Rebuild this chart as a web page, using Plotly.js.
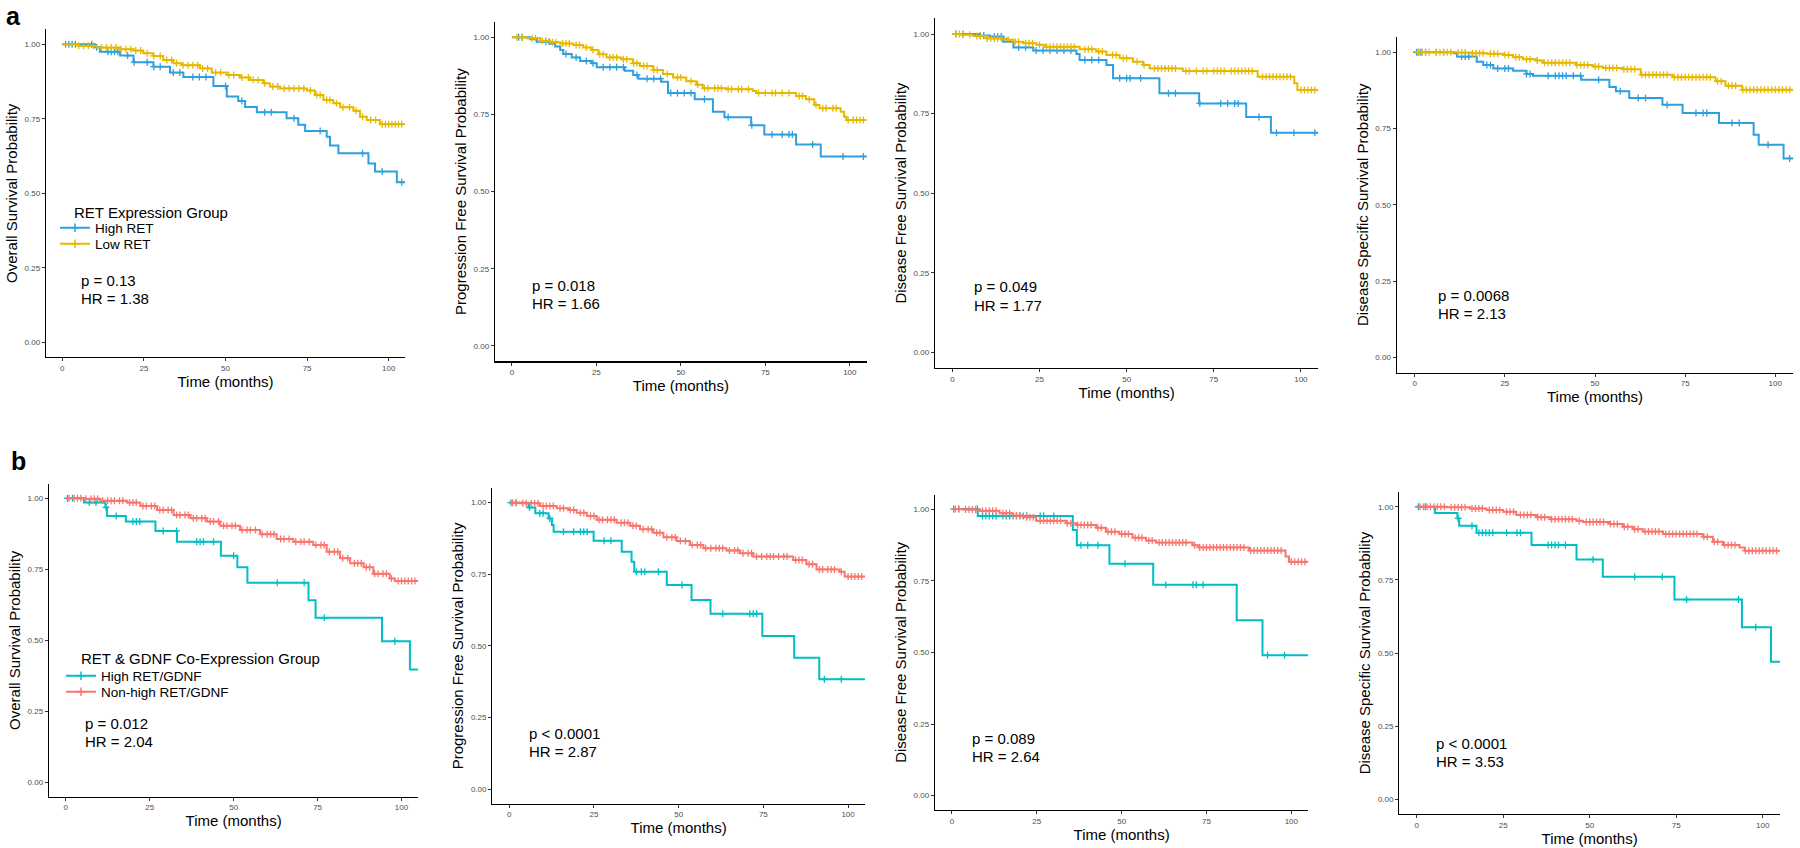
<!DOCTYPE html>
<html><head><meta charset="utf-8">
<script src="https://cdn.plot.ly/plotly-3.0.1.min.js"></script>
<style>html,body{margin:0;padding:0;background:#fff}</style>
</head><body><div id="chart" style="width:1800px;height:848px"></div>
<script>
// ---------- DATA ----------
const xTicks = [0, 25, 50, 75, 100];
const yTicks = [0, 0.25, 0.5, 0.75, 1];
const yTickText = ['0.00', '0.25', '0.50', '0.75', '1.00'];
const yTitles = ['Overall Survival Probability', 'Progression Free Survival Probability',
                 'Disease Free Survival Probability', 'Disease Specific Survival Probability'];
const xTitle = 'Time (months)';
const groupsA = ['High RET', 'Low RET'];
const groupsB = ['High RET/GDNF', 'Non-high RET/GDNF'];
const legendTitleA = 'RET Expression Group';
const legendTitleB = 'RET & GDNF Co-Expression Group';
const pTextsA = ['p = 0.13', 'p = 0.018', 'p = 0.049', 'p = 0.0068'];
const hrTextsA = ['HR = 1.38', 'HR = 1.66', 'HR = 1.77', 'HR = 2.13'];
const pTextsB = ['p = 0.012', 'p < 0.0001', 'p = 0.089', 'p < 0.0001'];
const hrTextsB = ['HR = 2.04', 'HR = 2.87', 'HR = 2.64', 'HR = 3.53'];

// Row a, panel 1 (OS)
const a1HighT = [0, 10, 11.5, 17.7, 21.8, 27.9, 33, 37.1, 46.3, 50.4, 53.9, 56, 59.6, 68.7, 72.3, 74.4, 81, 82, 84.6, 93.8, 95.8, 102.5, 105];
const a1HighS = [1, 0.99, 0.975, 0.962, 0.94, 0.925, 0.905, 0.89, 0.86, 0.825, 0.81, 0.79, 0.772, 0.752, 0.73, 0.709, 0.69, 0.66, 0.634, 0.6, 0.573, 0.537, 0.537];
const a1HighC = [1, 2, 3, 4, 9, 10.5, 14, 15, 16, 17, 20, 22, 26, 28, 30, 34, 36, 40, 42, 44, 50, 55, 62, 64, 71, 79, 92, 98, 104];
const a1LowT = [0, 4.9, 10.5, 17.7, 21.8, 24.8, 27.9, 30.9, 34, 36.6, 42.2, 45.8, 50.4, 54.4, 57.5, 61.6, 63.6, 66.7, 74.9, 77.4, 80, 83, 85.1, 89.2, 91.2, 93.3, 97.3, 105];
const a1LowS = [1, 0.995, 0.989, 0.983, 0.979, 0.97, 0.961, 0.947, 0.936, 0.93, 0.919, 0.905, 0.897, 0.889, 0.88, 0.869, 0.858, 0.852, 0.845, 0.83, 0.813, 0.802, 0.789, 0.777, 0.757, 0.746, 0.732, 0.732];
const a1LowC = [5, 6.5, 8, 9.5, 12, 13.5, 15, 16.5, 18, 19.5, 21, 22.5, 24, 26, 28, 30, 32, 33.5, 35, 37, 38.5, 40, 41.5, 43, 44.5, 47, 48.5, 51, 52.5, 55, 57, 58.5, 60, 62, 64.5, 66, 68, 69.5, 71, 72.5, 74, 76, 78, 79, 81, 82, 84, 86, 88, 90, 92, 94.5, 96, 98, 99, 100, 101, 102, 103, 104];

// Row a, panel 2 (PFS)
const a2HighT = [0, 5.4, 7.4, 11.3, 12.8, 14.3, 15.2, 17.7, 20.2, 23.6, 25.1, 33.4, 35.9, 37.4, 44.2, 46.2, 54.1, 59.5, 62.9, 70.8, 74.7, 84.1, 91.4, 105];
const a2HighS = [1, 0.994, 0.986, 0.98, 0.97, 0.959, 0.946, 0.935, 0.923, 0.916, 0.903, 0.892, 0.878, 0.866, 0.856, 0.82, 0.799, 0.759, 0.741, 0.715, 0.685, 0.653, 0.614, 0.614];
const a2HighC = [2, 3, 10, 11, 16, 19, 22, 24, 27, 29, 31, 33, 37, 40, 42, 44, 47, 49, 51, 53, 57, 64, 71, 77, 80, 82, 83, 89, 98, 104];
const a2LowT = [0, 4.4, 8.4, 11.3, 14.3, 18.2, 21.1, 23.6, 25.6, 28, 32.4, 35.9, 37.9, 41.8, 44.7, 47.7, 51.6, 54.6, 56.5, 63.4, 71.3, 72.3, 84.1, 87, 89.5, 91, 97.3, 98.3, 99, 105];
const a2LowS = [1, 0.997, 0.989, 0.984, 0.98, 0.975, 0.967, 0.959, 0.945, 0.935, 0.929, 0.916, 0.907, 0.894, 0.881, 0.87, 0.858, 0.846, 0.835, 0.832, 0.826, 0.82, 0.81, 0.799, 0.781, 0.77, 0.759, 0.743, 0.732, 0.732];
const a2LowC = [1.5, 3, 6, 7, 9, 10, 12, 13, 15, 16, 17, 19, 20, 22, 24, 26, 27, 29, 30, 31, 33, 34, 36, 37, 39, 40, 42, 43, 46, 49, 50, 53, 55, 57, 58, 60, 61, 62, 64, 65, 67, 68, 70, 73, 75, 77, 78, 80, 82, 85, 86, 88, 90, 92, 93, 95, 96, 99.5, 101, 102, 103, 104];

// Row a, panel 3 (DFS)
const a3HighT = [0, 7.9, 10.8, 14.6, 17.5, 23.2, 35.6, 36.5, 44.2, 46.1, 59.4, 70.8, 84.3, 91.4, 105];
const a3HighS = [1, 0.995, 0.992, 0.976, 0.958, 0.948, 0.937, 0.918, 0.903, 0.861, 0.814, 0.782, 0.739, 0.69, 0.69];
const a3HighC = [1, 3, 8, 9, 12, 13, 14, 19, 21, 24, 26, 28, 30, 32, 34, 38, 40, 42, 48, 50, 51, 54, 62, 64, 71, 77, 79, 81, 82, 88, 93, 98, 104];
const a3LowT = [0, 2.2, 6, 9.8, 15.6, 17.5, 20.3, 24.1, 26.5, 36.5, 41.3, 44.2, 48, 51.8, 54.7, 56.6, 66.1, 87.6, 98.1, 99, 105];
const a3LowS = [1, 0.998, 0.994, 0.986, 0.982, 0.976, 0.971, 0.966, 0.96, 0.952, 0.945, 0.934, 0.924, 0.913, 0.903, 0.892, 0.884, 0.866, 0.845, 0.824, 0.824];
const a3LowC = [1, 2, 3, 5, 7, 8, 10, 11, 12, 13, 14, 16, 18, 19, 21, 22, 23, 25, 27, 28, 29, 30, 31, 32, 33, 34, 35, 38, 39, 40, 42, 43, 46, 47, 49, 50, 53, 55, 58, 59, 60, 61, 62, 63, 64, 67, 68, 70, 72, 73, 75, 76, 77, 78, 80, 81, 82, 83, 84, 85, 86, 89, 90, 91, 92, 93, 94, 95, 96, 97, 100, 101, 102, 103, 104];

// Row a, panel 4 (DSS)
const a4HighT = [0, 10.8, 11.7, 17.2, 19, 21.8, 27.3, 31, 32.8, 46.2, 54, 55.8, 59.5, 68.7, 74.3, 84.4, 94, 95.4, 102.3, 105];
const a4HighS = [1, 0.997, 0.986, 0.969, 0.958, 0.947, 0.939, 0.929, 0.923, 0.91, 0.886, 0.872, 0.85, 0.828, 0.801, 0.768, 0.73, 0.697, 0.652, 0.652];
const a4HighC = [0.5, 1, 1.5, 2, 3, 6, 8, 13, 14, 15, 20, 21, 23, 25, 26, 31, 32, 37, 39, 40, 41, 42, 44, 46, 51, 57, 62, 64, 70, 78, 80, 81, 88, 90, 98, 104];
const a4LowT = [0, 11.7, 15.4, 20, 24.6, 27.3, 30, 33.8, 35.6, 44.8, 49.4, 52.2, 57.7, 62.7, 71.5, 83.4, 86.2, 90.8, 105];
const a4LowS = [1, 0.999, 0.997, 0.995, 0.991, 0.984, 0.977, 0.973, 0.966, 0.958, 0.953, 0.948, 0.944, 0.926, 0.918, 0.905, 0.89, 0.877, 0.877];
const a4LowC = [1, 2, 3, 4, 6, 7, 8, 9, 10, 12, 13, 14, 16, 17, 18, 19, 21, 22, 23, 25, 26, 28, 29, 31, 32, 34, 36, 37, 38, 39, 40, 41, 42, 43, 45, 46, 47, 48, 50, 51, 53, 54, 55, 56, 58, 59, 60, 61, 63, 64, 65, 66, 67, 68, 69, 70, 72, 73, 74, 75, 76, 77, 78, 79, 80, 81, 82, 84, 85, 87, 88, 89, 91, 92, 93, 94, 95, 96, 97, 98, 99, 100, 101, 102, 103, 104];

// Row b, panel 1 (OS)
const b1HighT = [0, 5.4, 11.8, 12.3, 17.9, 26.7, 33.1, 46.2, 51.1, 54.1, 72.3, 74.4, 94.2, 102.5, 105];
const b1HighS = [1, 0.985, 0.968, 0.938, 0.918, 0.885, 0.847, 0.798, 0.757, 0.703, 0.641, 0.579, 0.497, 0.397, 0.397];
const b1HighC = [0.5, 2, 7, 9, 12, 15, 20, 21, 22, 29, 33, 39, 40, 41, 44, 50, 63, 71, 77, 98];
const b1NonT = [0, 5.4, 10.3, 18.2, 22.2, 27.2, 32.1, 37.1, 42, 46, 51.9, 57.9, 62.8, 67.8, 73.7, 77.7, 81.7, 84.7, 88.7, 91.6, 96.5, 98, 105];
const b1NonS = [1, 0.998, 0.991, 0.985, 0.973, 0.959, 0.941, 0.93, 0.918, 0.903, 0.888, 0.873, 0.857, 0.847, 0.836, 0.812, 0.789, 0.771, 0.757, 0.734, 0.718, 0.709, 0.709];
const b1NonC = [1, 2.5, 3.5, 4.5, 6, 7.5, 8.5, 9.5, 11, 12.5, 13.5, 14.5, 16, 17, 19, 20, 21, 23, 24, 25.5, 26.5, 28, 29, 30.5, 31.5, 33, 34, 35.5, 36.5, 38, 39, 40.5, 41.5, 43, 44, 45.5, 47, 48, 49.5, 50.5, 52.5, 54, 55, 56.5, 58.5, 60, 61, 62, 64, 65, 66.5, 68.5, 70, 71, 72.5, 74.5, 76, 77, 78.5, 80, 81, 82.5, 84, 86, 87, 88, 89.5, 90.5, 92, 93, 94.5, 95.5, 97, 99, 100, 101, 102, 103, 104];

// Row b, panel 2 (PFS)
const b2HighT = [0, 5.7, 7.7, 11.6, 12.6, 13.1, 24.9, 33.2, 36.1, 36.9, 46.5, 53.8, 59.4, 74.7, 84.1, 91.5, 105];
const b2HighS = [1, 0.983, 0.963, 0.945, 0.922, 0.898, 0.867, 0.829, 0.794, 0.759, 0.713, 0.66, 0.612, 0.535, 0.459, 0.384, 0.384];
const b2HighC = [0.5, 2, 6, 9, 10, 12, 16, 19, 21, 22, 23, 28, 30, 37.5, 39, 40, 44, 51, 63, 71, 72, 73, 93, 98];
const b2NonT = [0, 3.2, 9.1, 14, 17.5, 19.9, 22.9, 25.8, 31.7, 35.7, 38.6, 42.5, 45.5, 49.4, 53.3, 57.3, 64.1, 68.1, 72, 83.8, 87.7, 90.7, 97.5, 99, 105];
const b2NonS = [1, 0.998, 0.988, 0.98, 0.974, 0.965, 0.953, 0.94, 0.93, 0.919, 0.907, 0.895, 0.879, 0.866, 0.852, 0.841, 0.833, 0.823, 0.812, 0.8, 0.785, 0.767, 0.759, 0.742, 0.742];
const b2NonC = [1, 2, 4, 5, 6.5, 7.5, 8.5, 10, 11, 12, 13, 15, 16, 18, 19, 21, 22, 24, 25, 26.5, 27.5, 29, 30, 31, 33, 34, 35, 36.5, 37.5, 39.5, 41, 42, 43.5, 44.5, 46.5, 48, 49, 50.5, 52, 54, 55.5, 56.5, 58, 59.5, 61, 62, 63, 65, 66.5, 67.5, 69, 70.5, 71.5, 73, 74.5, 76, 77, 78, 79.5, 81, 82, 84.5, 85.5, 86.5, 88.5, 89.5, 91.5, 92.5, 94, 95, 96, 98, 100, 101, 102, 103, 104];

// Row b, panel 3 (DFS)
const b3HighT = [0, 7.6, 35.6, 36.8, 46.4, 59.3, 83.9, 91.5, 105];
const b3HighS = [1, 0.976, 0.927, 0.874, 0.809, 0.736, 0.612, 0.49, 0.49];
const b3HighC = [0.5, 2, 7.5, 9, 10, 11, 12, 13, 15, 16, 17, 18, 19, 20, 21, 22, 26, 27, 30, 38, 40, 43, 51, 63, 71, 72, 74, 93, 98];
const b3NonT = [0, 3.2, 8.1, 14, 17.9, 20.9, 24.8, 33.6, 36.6, 42.5, 45.4, 49.3, 53.2, 57.2, 60.1, 70.9, 72.8, 87.5, 98.3, 99.3, 105];
const b3NonS = [1, 0.998, 0.994, 0.985, 0.977, 0.971, 0.959, 0.95, 0.944, 0.935, 0.921, 0.913, 0.9, 0.89, 0.883, 0.874, 0.866, 0.855, 0.834, 0.816, 0.816];
const b3NonC = [1, 2, 4, 5, 6, 7, 9, 10, 11, 12, 13, 15, 16, 17, 19, 20, 22, 23, 24, 26, 27, 28, 29, 30, 31, 32, 34, 35, 37, 38, 39, 40, 41, 43, 44, 46, 47, 48, 50, 51, 52, 54, 55, 56, 58, 59, 61, 62, 63, 64, 65, 66, 67, 68, 69, 71.5, 73, 74, 75, 76, 77, 78, 79, 80, 81, 82, 83, 84, 85, 86, 88, 89, 90, 91, 92, 93, 94, 95, 96, 97, 100, 101, 102, 103, 104];

// Row b, panel 4 (DSS)
const b4HighT = [0, 5.3, 11.8, 12.3, 17.3, 33.2, 46.2, 53.8, 74.5, 94, 102.4, 105];
const b4HighS = [1, 0.979, 0.96, 0.935, 0.911, 0.869, 0.82, 0.761, 0.683, 0.588, 0.47, 0.47];
const b4HighC = [0.5, 2.5, 12, 16, 18, 19, 20, 21, 22, 26, 29, 30, 38, 39, 40, 41, 43, 51, 63, 71, 78, 93, 98];
const b4NonT = [0, 8.7, 15.4, 20.2, 25, 28.8, 34.6, 38.5, 46.2, 48.1, 55.8, 59.6, 62.5, 65.4, 71.2, 82.7, 85.6, 88.5, 93.3, 94.8, 105];
const b4NonS = [1, 0.998, 0.994, 0.989, 0.983, 0.972, 0.964, 0.957, 0.952, 0.948, 0.941, 0.932, 0.923, 0.915, 0.907, 0.897, 0.88, 0.869, 0.861, 0.85, 0.85];
const b4NonC = [1, 2, 3, 4, 5, 6, 7, 8, 10, 11, 12, 13, 14, 16, 17, 18, 19, 21, 22, 23, 24, 26, 27, 28, 30, 31, 32, 33, 35, 36, 37, 39, 40, 41, 42, 43, 44, 45, 47, 49, 50, 51, 52, 53, 54, 56, 57, 58, 60, 61, 63, 64, 66, 67, 68, 69, 70, 72, 73, 74, 75, 76, 77, 78, 79, 80, 81, 83, 84, 86, 87, 89, 90, 91, 92, 95, 96, 97, 98, 99, 100, 101, 102, 103, 104];

// ---------- STYLE / LAYOUT ----------
const colorsA = ['#2E9FDF', '#E7B800'];
const colorsB = ['#00BFC4', '#F8766D'];
const W = 1800, H = 848;
const FONT = 'Liberation Sans, Arial, Helvetica, sans-serif';
// panel boxes in pixels: [left, right, top, bottom]
const boxes = [
  [46, 405, 29.4, 357.2], [495, 866.7, 21.9, 361.4], [935, 1318.3, 18.1, 368.2], [1396.7, 1793.3, 37, 372.6],
  [49, 418.3, 484.1, 796.5], [492.3, 865, 488.3, 803.6], [935, 1308.3, 494.7, 810], [1399.3, 1780, 492.1, 814]
];
// p-value text positions (left px, first line centre px)
const pPos = [[79, 280], [530, 285.7], [971.7, 286.7], [1436, 295], [83.3, 723.3], [527.3, 733.3], [970, 738.3], [1434.3, 743.3]];

const panels = [
  {curves: [[a1HighT, a1HighS, a1HighC], [a1LowT, a1LowS, a1LowC]], colors: colorsA},
  {curves: [[a2HighT, a2HighS, a2HighC], [a2LowT, a2LowS, a2LowC]], colors: colorsA},
  {curves: [[a3HighT, a3HighS, a3HighC], [a3LowT, a3LowS, a3LowC]], colors: colorsA},
  {curves: [[a4HighT, a4HighS, a4HighC], [a4LowT, a4LowS, a4LowC]], colors: colorsA},
  {curves: [[b1HighT, b1HighS, b1HighC], [b1NonT, b1NonS, b1NonC]], colors: colorsB},
  {curves: [[b2HighT, b2HighS, b2HighC], [b2NonT, b2NonS, b2NonC]], colors: colorsB},
  {curves: [[b3HighT, b3HighS, b3HighC], [b3NonT, b3NonS, b3NonC]], colors: colorsB},
  {curves: [[b4HighT, b4HighS, b4HighC], [b4NonT, b4NonS, b4NonC]], colors: colorsB}
];

function survAt(T, S, t) { let s = 1; for (let i = 0; i < T.length; i++) { if (T[i] <= t) s = S[i]; } return s; }
const px = x => x / W, py = y => 1 - y / H;

const traces = [];
const layout = {
  width: W, height: H, margin: {l: 0, r: 0, t: 0, b: 0},
  paper_bgcolor: '#fff', plot_bgcolor: '#fff', font: {family: FONT, color: '#000'},
  showlegend: true, annotations: []
};
const MK = {symbol: 'cross-thin', size: 5};

panels.forEach((p, i) => {
  const n = i + 1;
  const xa = 'x' + (n === 1 ? '' : n), ya = 'y' + (n === 1 ? '' : n);
  p.curves.forEach((c, k) => {
    const col = p.colors[k];
    traces.push({x: c[0], y: c[1], xaxis: xa, yaxis: ya, type: 'scatter', mode: 'lines',
      line: {shape: 'hv', color: col, width: 2}, showlegend: false, hoverinfo: 'skip'});
    traces.push({x: c[2], y: c[2].map(t => survAt(c[0], c[1], t)), xaxis: xa, yaxis: ya, type: 'scatter', mode: 'markers',
      marker: {symbol: MK.symbol, size: MK.size, color: col, line: {color: col, width: 1.3}}, showlegend: false, hoverinfo: 'skip'});
  });
  const b = boxes[i];
  layout['xaxis' + (n === 1 ? '' : n)] = {
    domain: [px(b[0]), px(b[1])], anchor: ya, range: [-5, 105],
    showline: true, linecolor: '#000', linewidth: 1.2, ticks: 'outside', ticklen: 3, tickcolor: '#333', tickwidth: 1,
    tickvals: xTicks, ticktext: xTicks.map(String), tickfont: {size: 8, color: '#4d4d4d', family: FONT},
    showgrid: false, zeroline: false, fixedrange: true,
    title: {text: xTitle, font: {size: 15, color: '#000', family: FONT}, standoff: 0}
  };
  layout['yaxis' + (n === 1 ? '' : n)] = {
    domain: [py(b[3]), py(b[2])], anchor: xa, range: [-0.05, 1.05],
    showline: true, linecolor: '#000', linewidth: 1.2, ticks: 'outside', ticklen: 3, tickcolor: '#333', tickwidth: 1,
    tickvals: yTicks, ticktext: yTickText, tickfont: {size: 8, color: '#4d4d4d', family: FONT},
    showgrid: false, zeroline: false, fixedrange: true,
    title: {text: yTitles[i % 4], font: {size: 15, color: '#000', family: FONT}, standoff: 3}
  };
  const pt = i < 4 ? pTextsA[i] : pTextsB[i - 4];
  const ht = i < 4 ? hrTextsA[i] : hrTextsB[i - 4];
  const pp = pPos[i];
  layout.annotations.push({xref: 'paper', yref: 'paper', x: px(pp[0]), y: py(pp[1]), xanchor: 'left', yanchor: 'middle',
    text: pt, showarrow: false, font: {size: 15, color: '#000', family: FONT}});
  layout.annotations.push({xref: 'paper', yref: 'paper', x: px(pp[0]), y: py(pp[1] + 18.3), xanchor: 'left', yanchor: 'middle',
    text: ht, showarrow: false, font: {size: 15, color: '#000', family: FONT}});
});

// legend entries: one legend per entry for exact row spacing
const legendRows = [
  {name: groupsA[0], color: colorsA[0], id: 'legend', ax: ['x', 'y'], x: 55, y: 228},
  {name: groupsA[1], color: colorsA[1], id: 'legend2', ax: ['x', 'y'], x: 55, y: 244},
  {name: groupsB[0], color: colorsB[0], id: 'legend3', ax: ['x5', 'y5'], x: 61, y: 676},
  {name: groupsB[1], color: colorsB[1], id: 'legend4', ax: ['x5', 'y5'], x: 61, y: 692}
];
legendRows.forEach(r => {
  traces.push({x: [null], y: [null], xaxis: r.ax[0], yaxis: r.ax[1], type: 'scatter', mode: 'lines+markers', name: r.name,
    legend: r.id, showlegend: true, line: {color: r.color, width: 2},
    marker: {symbol: MK.symbol, size: 6, color: r.color, line: {color: r.color, width: 1.5}}});
  layout[r.id] = {x: px(r.x), y: py(r.y), xanchor: 'left', yanchor: 'middle', bgcolor: 'rgba(0,0,0,0)',
    font: {size: 13.5, color: '#000', family: FONT}, itemwidth: 30, tracegroupgap: 0, borderwidth: 0};
});

// legend titles
layout.annotations.push({xref: 'paper', yref: 'paper', x: px(72), y: py(212), xanchor: 'left', yanchor: 'middle',
  text: legendTitleA, showarrow: false, font: {size: 15, color: '#000', family: FONT}});
layout.annotations.push({xref: 'paper', yref: 'paper', x: px(79), y: py(658), xanchor: 'left', yanchor: 'middle',
  text: legendTitleB, showarrow: false, font: {size: 15, color: '#000', family: FONT}});
// panel letters
layout.annotations.push({xref: 'paper', yref: 'paper', x: px(13), y: 1, xanchor: 'center', yanchor: 'top',
  text: '<b>a</b>', showarrow: false, font: {size: 25, color: '#000', family: FONT}});
layout.annotations.push({xref: 'paper', yref: 'paper', x: px(18), y: py(461), xanchor: 'center', yanchor: 'middle',
  text: '<b>b</b>', showarrow: false, font: {size: 25, color: '#000', family: FONT}});

Plotly.newPlot('chart', traces, layout, {displayModeBar: false, staticPlot: true});
</script>
</body></html>
